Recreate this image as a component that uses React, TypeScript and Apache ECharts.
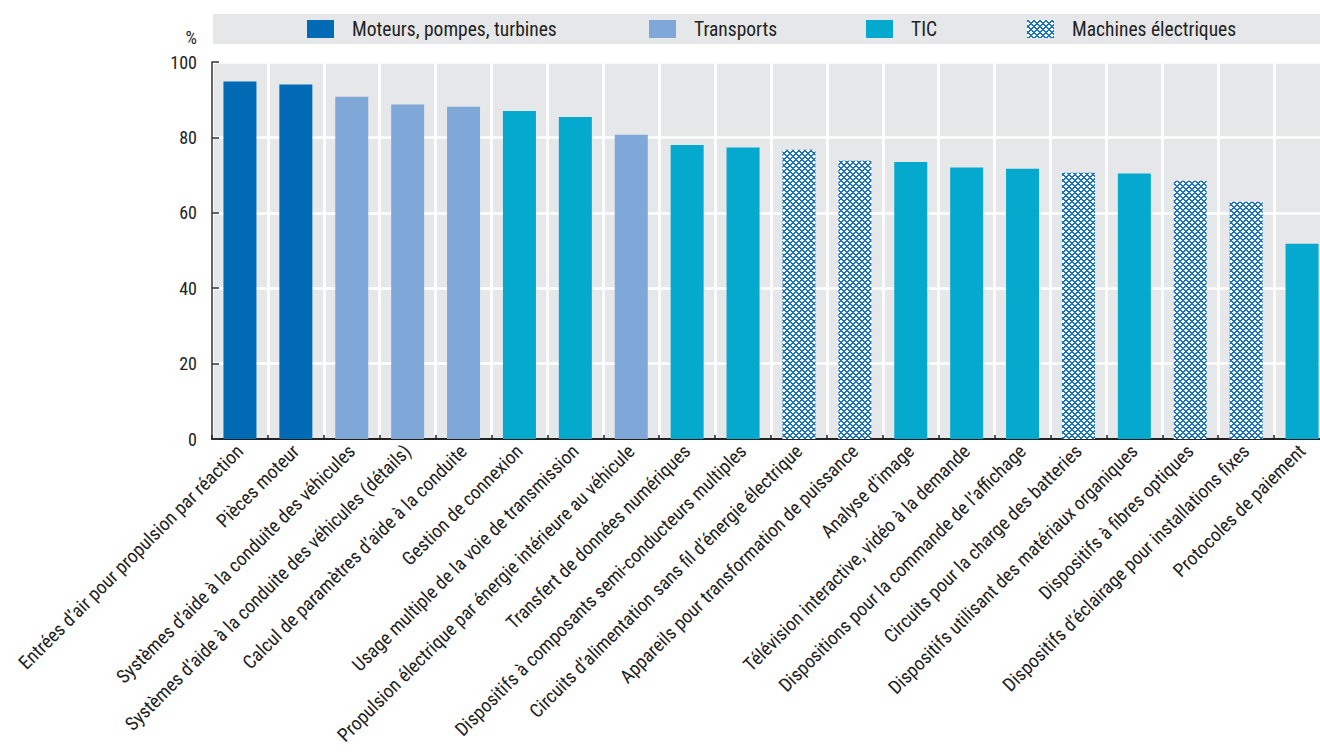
import React, { useEffect, useRef } from "react";
import * as echarts from "echarts";

const categories = [
  "Entrées d’air pour propulsion par réaction",
  "Pièces moteur",
  "Systèmes d’aide à la conduite des véhicules",
  "Systèmes d’aide à la conduite des véhicules (détails)",
  "Calcul de paramètres d’aide à la conduite",
  "Gestion de connexion",
  "Usage multiple de la voie de transmission",
  "Propulsion électrique par énergie intérieure au véhicule",
  "Transfert de données numériques",
  "Dispositifs à composants semi-conducteurs multiples",
  "Circuits d’alimentation sans fil d’énergie électrique",
  "Appareils pour transformation de puissance",
  "Analyse d’image",
  "Télévision interactive, vidéo à la demande",
  "Dispositions pour la commande de l’affichage",
  "Circuits pour la charge des batteries",
  "Dispositifs utilisant des matériaux organiques",
  "Dispositifs à fibres optiques",
  "Dispositifs d’éclairage pour installations fixes",
  "Protocoles de paiement",
];

const values = [
  94.8, 94.0, 90.8, 88.7, 88.1, 87.0, 85.4, 80.7, 78.0, 77.3,
  76.7, 73.8, 73.5, 72.0, 71.7, 70.6, 70.4, 68.5, 62.9, 51.8,
];

const seriesNames = [
  "Moteurs, pompes, turbines",
  "Transports",
  "TIC",
  "Machines électriques",
];

// group index (into seriesNames) of each category
const groups = [0, 0, 1, 1, 1, 2, 2, 1, 2, 2, 3, 3, 2, 2, 2, 3, 2, 3, 3, 2];

const yTicks = { min: 0, max: 100, interval: 20 };

const FONT = "'Liberation Sans Narrow', 'Roboto Condensed', 'DejaVu Sans Condensed', 'Arial Narrow', sans-serif";

function makePattern() {
  const N = 6;
  const c = document.createElement("canvas");
  c.width = N;
  c.height = N;
  const ctx = c.getContext("2d")!;
  const img = ctx.createImageData(N, N);
  for (let y = 0; y < N; y++) {
    for (let x = 0; x < N; x++) {
      const d1 = (((x - y) % N) + N) % N;
      const d2 = (x + y) % N;
      const blue = d1 <= 1 || d2 <= 1;
      const o = (y * N + x) * 4;
      if (blue) {
        img.data[o] = 0x18;
        img.data[o + 1] = 0x74;
        img.data[o + 2] = 0xc2;
      } else {
        img.data[o] = 255;
        img.data[o + 1] = 255;
        img.data[o + 2] = 255;
      }
      img.data[o + 3] = 255;
    }
  }
  ctx.putImageData(img, 0, 0);
  return {
    image: c.toDataURL(),
    repeat: "repeat",
    imageWidth: N,
    imageHeight: N,
  } as any;
}

export default function App() {
  const ref = useRef<HTMLDivElement>(null);

  useEffect(() => {
    if (!ref.current) return;
    const chart = echarts.init(ref.current, undefined, { renderer: "svg" });
    const pattern = makePattern();
    const colors: any[] = ["#006AB5", "#7FA7D8", "#05A9CD", pattern];

    const series = seriesNames.map((name, gi) => ({
      name,
      type: "bar",
      barWidth: 33,
      barGap: "-100%",
      itemStyle: { color: colors[gi] },
      data: values.map((v, i) => (groups[i] === gi ? v : "-")),
    }));

    const legendLefts = [307, 649, 866, 1027];
    const legends = seriesNames.map((name, gi) => ({
      left: legendLefts[gi],
      top: 19,
      padding: 0,
      data: [name],
      icon: "rect",
      itemWidth: 27,
      itemHeight: 18,
      selectedMode: false,
      textStyle: {
        fontFamily: FONT,
        fontSize: 19.5,
        color: "#222",
        padding: [0, 0, 0, 13],
      },
    }));

    chart.setOption({
      animation: false,
      textStyle: { fontFamily: FONT },
      graphic: [
        {
          type: "rect",
          left: 213,
          top: 14,
          shape: { width: 1107, height: 30 },
          style: { fill: "#E6E7E9" },
          z: -1,
        },
      ],
      legend: legends,
      grid: {
        left: 212,
        top: 62,
        width: 1118,
        bottom: 315,
        outerBoundsMode: "none",
        containLabel: false,
        show: true,
        backgroundColor: "#E6E7E9",
        borderWidth: 0,
      },
      xAxis: {
        type: "category",
        data: categories,
        axisLine: { show: true, lineStyle: { color: "#222", width: 2 } },
        axisTick: { show: true, inside: true, length: 4, lineStyle: { color: "#222", width: 1.5 } },
        splitLine: { show: true, lineStyle: { color: "#ffffff", width: 2.5 } },
        axisLabel: {
          interval: 0,
          rotate: 45,
          margin: 9,
          fontFamily: FONT,
          fontSize: 19,
          color: "#222",
        },
      },
      yAxis: {
        type: "value",
        min: yTicks.min,
        max: yTicks.max,
        interval: yTicks.interval,
        name: "%",
        nameLocation: "end",
        nameGap: 25,
        nameTextStyle: {
          fontFamily: FONT,
          fontSize: 18,
          color: "#222",
          align: "right",
          verticalAlign: "middle",
          padding: [0, 15, 0, 0],
        },
        axisLine: { show: true, lineStyle: { color: "#333", width: 1.5 } },
        axisTick: { show: true, inside: true, length: 7, lineStyle: { color: "#333", width: 1.5 } },
        splitLine: { show: true, lineStyle: { color: "#ffffff", width: 2.5 } },
        axisLabel: {
          margin: 15,
          fontFamily: FONT,
          fontSize: 18,
          color: "#222",
        },
      },
      series,
    });

    return () => chart.dispose();
  }, []);

  return (
    <div
      ref={ref}
      style={{ position: "fixed", left: 0, top: 0, width: 1320, height: 754, background: "#fff" }}
    />
  );
}
